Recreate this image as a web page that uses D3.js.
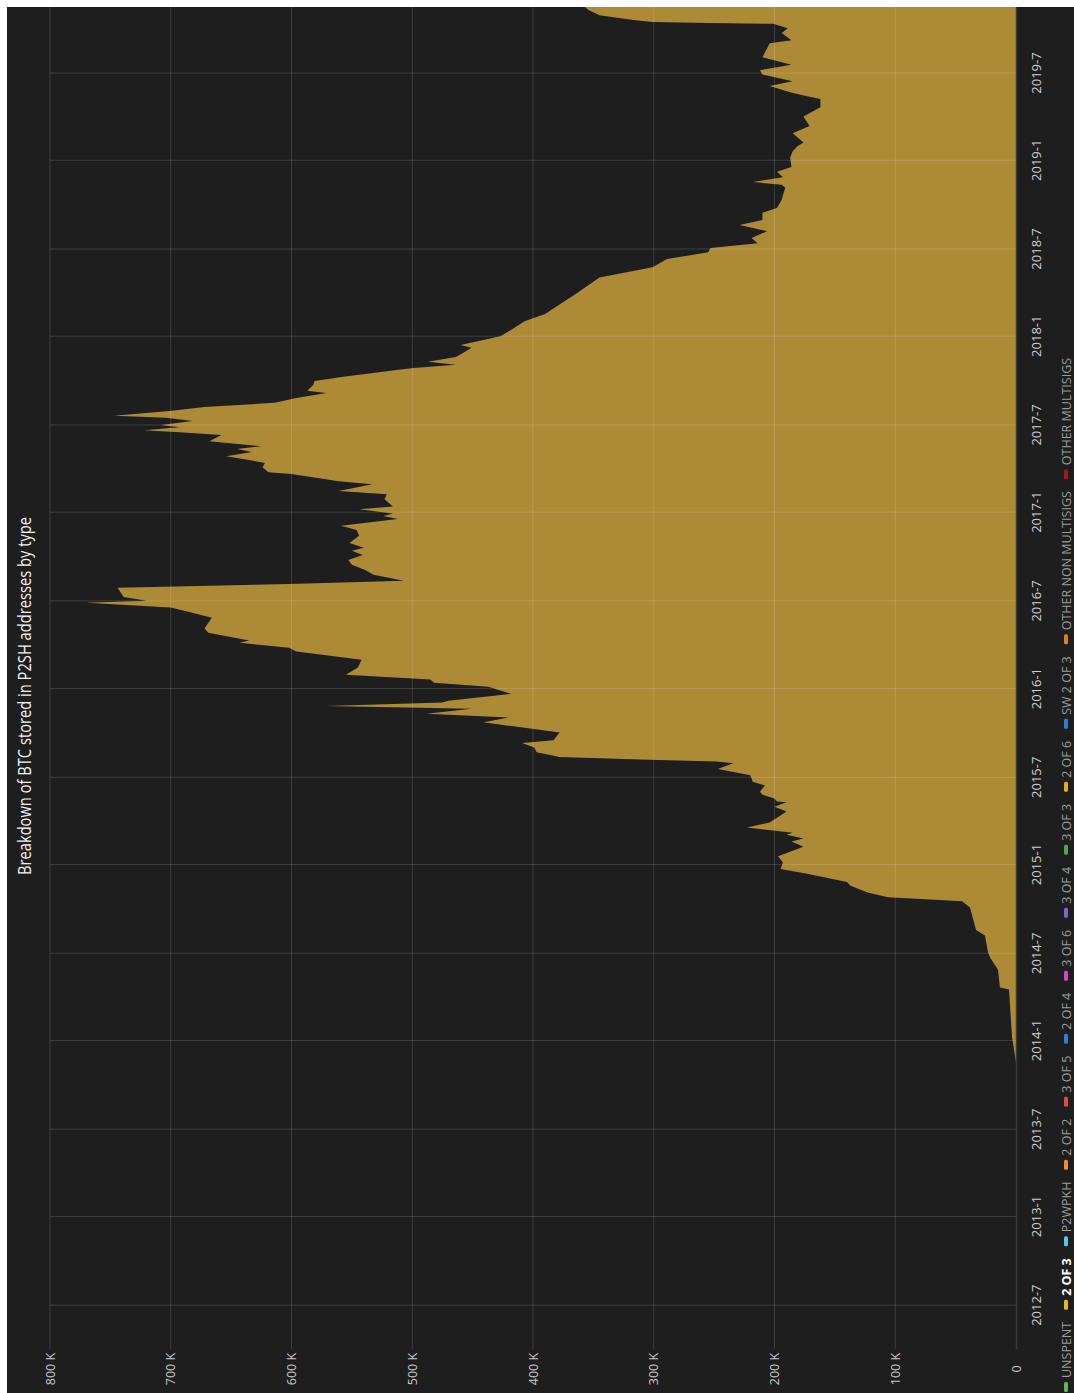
<!DOCTYPE html>
<html><head><meta charset="utf-8">
<script src="https://cdn.jsdelivr.net/npm/d3@7"></script>
<style>html,body{margin:0;padding:0;background:#fff;} svg{display:block;}</style>
</head><body>
<svg id="chart" width="1074" height="1393"></svg>
<script>
// ---- data ----
const titleText = "Breakdown of BTC stored in P2SH addresses by type";
const categories = ["UNSPENT","2 OF 3","P2WPKH","2 OF 2","3 OF 5","2 OF 4","3 OF 6","3 OF 4","3 OF 3","2 OF 6","SW 2 OF 3","OTHER NON MULTISIGS","OTHER MULTISIGS"];
const categoryColors = ["#63b45a","#e8b727","#5cc3e0","#ef8a3c","#e5483f","#2f7fd3","#d545c6","#7e66c3","#50a650","#dcae1f","#2f7fd6","#e07b26","#9c1a1a"];
const activeCategory = "2 OF 3";
const dates2of3 = ["2013-11-17","2014-01-09","2014-04-17","2014-04-21","2014-05-28","2014-06-22","2014-07-03","2014-08-07","2014-08-18","2014-10-04","2014-10-17",
"2014-10-25","2014-11-04","2014-11-18","2014-11-26","2014-12-13","2014-12-23",
"2015-01-05","2015-01-18","2015-02-07","2015-02-18","2015-02-24","2015-03-04","2015-03-08","2015-03-19","2015-03-29","2015-04-21","2015-05-01","2015-05-10","2015-05-12","2015-05-18","2015-05-26","2015-06-01","2015-06-14","2015-06-22",
"2015-07-05","2015-07-18","2015-07-30","2015-08-03","2015-08-07","2015-08-12","2015-08-22","2015-09-01","2015-09-10","2015-09-16","2015-10-02","2015-10-23","2015-11-02","2015-11-10","2015-11-20","2015-11-26","2015-12-03","2015-12-07","2015-12-21",
"2016-01-05","2016-01-13","2016-01-20","2016-01-30","2016-02-14","2016-03-01","2016-03-05","2016-03-18","2016-03-26","2016-04-05","2016-04-10","2016-04-26","2016-05-05","2016-05-27","2016-06-07","2016-06-17","2016-06-27",
"2016-07-01","2016-07-09","2016-07-28","2016-08-05","2016-08-12","2016-08-24","2016-09-03","2016-09-14","2016-09-24","2016-10-04","2016-10-13","2016-10-19","2016-10-29","2016-11-13","2016-11-25","2016-12-04","2016-12-18","2016-12-24","2016-12-29",
"2017-01-07","2017-01-13","2017-01-28","2017-02-07","2017-02-14","2017-02-28","2017-03-06","2017-03-21","2017-03-25","2017-04-04","2017-04-13","2017-04-21","2017-04-27","2017-05-06","2017-05-12","2017-05-18","2017-05-28","2017-06-10","2017-06-16","2017-06-20","2017-06-26",
"2017-07-01","2017-07-09","2017-07-16","2017-07-20","2017-07-30","2017-08-07","2017-08-16","2017-08-26","2017-09-05","2017-09-10","2017-09-22","2017-09-30","2017-10-09","2017-10-23","2017-10-27","2017-11-03","2017-11-09","2017-11-19","2017-11-27","2017-12-08","2017-12-14",
"2018-01-01","2018-01-16","2018-02-01","2018-02-16","2018-03-08","2018-03-29","2018-04-19","2018-05-03","2018-05-24","2018-06-10","2018-06-24",
"2018-07-03","2018-07-13","2018-07-24","2018-08-07","2018-08-20","2018-08-30","2018-09-14","2018-09-24","2018-10-11","2018-10-21","2018-11-05","2018-11-11","2018-11-17","2018-11-27","2018-12-08","2018-12-18",
"2019-01-07","2019-01-20","2019-01-30","2019-02-07","2019-02-26","2019-03-13","2019-04-02","2019-04-21","2019-05-08","2019-05-14","2019-05-22","2019-06-04","2019-06-14","2019-06-28",
"2019-07-07","2019-07-18","2019-08-03","2019-09-01","2019-09-07","2019-09-22","2019-10-02","2019-10-11","2019-10-13","2019-10-15","2019-10-19","2019-10-29","2019-11-09","2019-11-15"];
const values2of3 = [0,3300,5800,13300,14900,21500,23200,25700,33100,38100,44700,
106000,123000,137000,140000,173000,195000,
193000,197000,176000,186000,176000,190000,185000,223000,204000,190000,200000,190000,198000,200000,210000,212000,208000,218000,
220000,247000,234000,248000,311000,378000,397000,399000,409000,383000,378000,441000,420000,488000,451000,571000,475000,470000,418000,
437000,482000,485000,555000,545000,542000,555000,596000,602000,643000,635000,669000,672000,666000,683000,700000,770000,
720000,739000,744000,602000,507000,532000,539000,550000,553000,541000,550000,540000,552000,544000,546000,559000,512000,524000,516000,
544000,516000,523000,521000,561000,533000,561000,600000,619000,624000,622000,639000,654000,633000,645000,625000,668000,658000,693000,722000,693000,
708000,682000,704000,747000,701000,672000,614000,596000,571000,587000,582000,581000,557000,513000,499000,464000,487000,464000,458000,451000,460000,
427000,417000,407000,390000,378000,365000,353000,345000,301000,289000,255000,
253000,214000,219000,206000,229000,210000,210000,198000,194000,193000,191000,194000,218000,193000,198000,186000,
187000,185000,181000,176000,185000,171000,176000,162000,162000,173000,187000,204000,185000,210000,
212000,186000,210000,204000,186000,194000,189000,201000,253000,301000,317000,345000,354000,357000];
const valueTicks = [0,100000,200000,300000,400000,500000,600000,700000,800000];
const timeDomain = ["2012-04-01","2019-11-15"];

// ---- drawing (landscape chart, rotated into the portrait page) ----
const parse = d3.utcParse("%Y-%m-%d");
const series = dates2of3.map((d,i)=>({date:parse(d), value:values2of3[i]}));
const FONT = "'Liberation Sans Narrow','Open Sans','DejaVu Sans',sans-serif";

const svg = d3.select("#chart");
svg.append("rect").attr("width",1074).attr("height",1393).attr("fill","#ffffff");
const g = svg.append("g").attr("transform","translate(0,1393) rotate(-90)");
g.append("rect").attr("x",0).attr("y",7).attr("width",1386).attr("height",1067).attr("fill","#1f1e1f");

const x = d3.scaleUtc().domain(timeDomain.map(parse)).range([44,1386]);
const y = d3.scaleLinear().domain([0,800000]).range([1016,50]);

g.append("clipPath").attr("id","plotclip").append("rect")
  .attr("x",44).attr("y",50).attr("width",1342).attr("height",966);

const area = d3.area().x(d=>x(d.date)).y0(y(0)).y1(d=>y(d.value)).curve(d3.curveLinear);
g.append("path").datum(series).attr("clip-path","url(#plotclip)")
  .attr("d",area).attr("fill","#ad8a35");

// grid
const timeTicks = x.ticks(d3.utcMonth.every(6)).filter(d=>d.getUTCMonth()%6===0);
g.append("g").selectAll("line").data(timeTicks).join("line")
  .attr("x1",d=>x(d)).attr("x2",d=>x(d)).attr("y1",y(800000)).attr("y2",y(0))
  .attr("stroke","rgba(255,255,255,0.14)").attr("stroke-width",1);
g.append("g").selectAll("line").data(valueTicks.filter(v=>v>0)).join("line")
  .attr("x1",44).attr("x2",1386).attr("y1",d=>y(d)).attr("y2",d=>y(d))
  .attr("stroke","rgba(255,255,255,0.14)").attr("stroke-width",1);
g.append("line").attr("x1",44).attr("x2",1386).attr("y1",y(0)+0.5).attr("y2",y(0)+0.5)
  .attr("stroke","#3a3a3a").attr("stroke-width",1.5);

// time labels
const fmt = d => `${d.getUTCFullYear()}-${d.getUTCMonth()+1}`;
g.append("g").selectAll("text").data(timeTicks).join("text")
  .attr("x",d=>x(d)).attr("y",1041).attr("text-anchor","middle")
  .attr("font-family",FONT).attr("font-size",13).attr("fill","#d0d0d0").text(fmt);

// value labels
const vfmt = v => v===0 ? "0" : (v/1000)+" K";
g.append("g").selectAll("text").data(valueTicks).join("text")
  .attr("x",24).attr("y",d=>y(d)+4.5).attr("text-anchor","middle")
  .attr("font-family",FONT).attr("font-size",12.5).attr("fill","#c8c8c8").text(vfmt);

// title
g.append("text").attr("x",697).attr("y",31).attr("text-anchor","middle")
  .attr("font-family",FONT).attr("font-size",17.5).attr("fill","#f0f0f0")
  .attr("textLength",358).attr("lengthAdjust","spacingAndGlyphs").text(titleText);

// legend
const leg = g.append("g");
let lx = 1;
categories.forEach((c,i)=>{
  const active = c===activeCategory;
  leg.append("rect").attr("x",lx).attr("y",1064).attr("width",10).attr("height",4).attr("rx",1.5)
    .attr("fill",categoryColors[i]);
  const t = leg.append("text").attr("x",lx+14).attr("y",1070.5)
    .attr("font-family",FONT).attr("font-size",12.5)
    .attr("font-weight",active?"bold":"normal")
    .attr("fill",active?"#ffffff":"#9a9a9a").text(c);
  lx += 14 + t.node().getComputedTextLength() + 12;
});
</script>
</body></html>
